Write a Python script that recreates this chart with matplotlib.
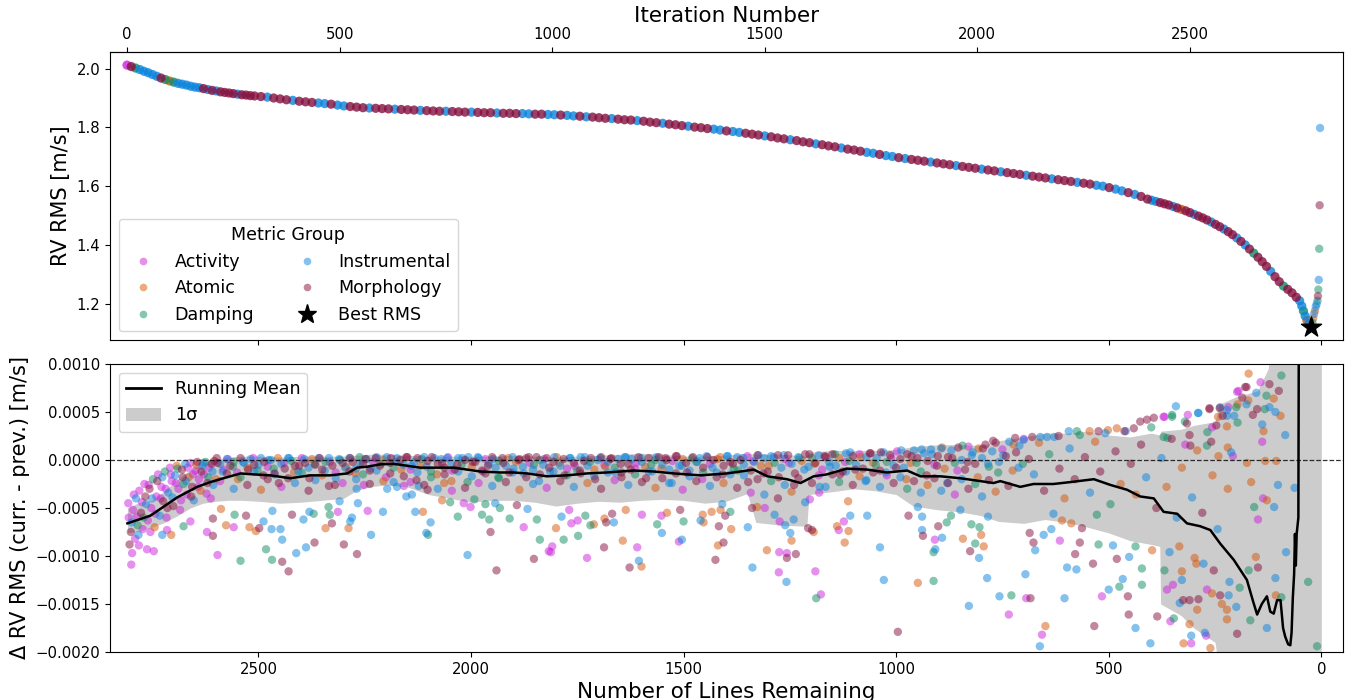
import numpy as np
import matplotlib
matplotlib.use('Agg')
import matplotlib.pyplot as plt
from matplotlib.lines import Line2D
from matplotlib.patches import Patch
import matplotlib.ticker as ticker

# total number of lines at iteration 0
N_LINES = 2809

group_names = ['Activity', 'Atomic', 'Damping', 'Instrumental', 'Morphology']
group_codes = ['A', 'T', 'D', 'I', 'M']
group_colors = ['#cc22dd', '#d5560a', '#0e8c62', '#0a84dc', '#85103f']

# top panel: (iteration, RV RMS [m/s], group)
rms_curve = [
    (0, 2.012, 'A'), (10, 2.007, 'M'), (20, 2.002, 'D'), (30, 1.997, 'I'), (40, 1.991, 'I'),
    (50, 1.986, 'I'), (60, 1.980, 'I'), (70, 1.974, 'I'), (80, 1.968, 'M'), (90, 1.963, 'D'),
    (100, 1.958, 'T'), (110, 1.954, 'D'), (120, 1.950, 'I'), (130, 1.947, 'I'), (140, 1.944, 'I'),
    (150, 1.940, 'I'), (160, 1.937, 'I'), (170, 1.935, 'I'), (180, 1.932, 'M'), (190, 1.929, 'I'),
    (200, 1.926, 'M'), (210, 1.924, 'I'), (220, 1.921, 'M'), (230, 1.919, 'M'), (240, 1.917, 'M'),
    (250, 1.915, 'M'), (260, 1.913, 'I'), (270, 1.911, 'M'), (280, 1.910, 'M'), (290, 1.908, 'M'),
    (300, 1.907, 'M'), (315, 1.905, 'M'), (330, 1.903, 'I'), (345, 1.900, 'M'), (360, 1.897, 'M'),
    (375, 1.894, 'M'), (390, 1.892, 'I'), (405, 1.889, 'M'), (420, 1.887, 'M'), (435, 1.885, 'M'),
    (450, 1.883, 'I'), (465, 1.881, 'I'), (480, 1.879, 'M'), (495, 1.876, 'I'), (510, 1.873, 'I'),
    (525, 1.871, 'M'), (540, 1.869, 'M'), (555, 1.867, 'M'), (570, 1.866, 'I'), (585, 1.865, 'M'),
    (600, 1.864, 'M'), (615, 1.863, 'M'), (630, 1.862, 'I'), (645, 1.861, 'M'), (660, 1.860, 'M'),
    (675, 1.859, 'M'), (690, 1.858, 'I'), (705, 1.857, 'M'), (720, 1.856, 'M'), (735, 1.855, 'M'),
    (750, 1.855, 'I'), (765, 1.854, 'M'), (780, 1.853, 'M'), (795, 1.852, 'M'), (810, 1.852, 'I'),
    (825, 1.851, 'M'), (840, 1.850, 'M'), (855, 1.850, 'M'), (870, 1.849, 'I'), (885, 1.848, 'M'),
    (900, 1.848, 'M'), (915, 1.847, 'M'), (930, 1.847, 'I'), (945, 1.846, 'I'), (960, 1.845, 'M'),
    (975, 1.845, 'M'), (990, 1.844, 'I'), (1005, 1.843, 'I'), (1020, 1.842, 'M'), (1035, 1.841, 'I'),
    (1050, 1.839, 'I'), (1065, 1.838, 'M'), (1080, 1.836, 'I'), (1095, 1.835, 'M'), (1110, 1.833, 'M'),
    (1125, 1.831, 'M'), (1140, 1.830, 'I'), (1155, 1.828, 'M'), (1170, 1.826, 'M'), (1185, 1.825, 'M'),
    (1200, 1.823, 'I'), (1215, 1.821, 'M'), (1230, 1.818, 'M'), (1245, 1.816, 'M'), (1260, 1.814, 'I'),
    (1275, 1.811, 'M'), (1290, 1.809, 'M'), (1305, 1.806, 'M'), (1320, 1.804, 'I'), (1335, 1.801, 'M'),
    (1350, 1.799, 'M'), (1365, 1.796, 'M'), (1380, 1.794, 'I'), (1395, 1.791, 'I'), (1410, 1.788, 'M'),
    (1425, 1.786, 'I'), (1440, 1.783, 'I'), (1455, 1.780, 'M'), (1470, 1.777, 'M'), (1485, 1.774, 'M'),
    (1500, 1.771, 'I'), (1515, 1.768, 'M'), (1530, 1.764, 'M'), (1545, 1.761, 'M'), (1560, 1.758, 'I'),
    (1575, 1.755, 'M'), (1590, 1.751, 'M'), (1605, 1.748, 'M'), (1620, 1.744, 'I'), (1635, 1.741, 'M'),
    (1650, 1.737, 'M'), (1665, 1.734, 'M'), (1680, 1.730, 'I'), (1695, 1.726, 'M'), (1710, 1.723, 'M'),
    (1725, 1.719, 'M'), (1740, 1.715, 'I'), (1755, 1.712, 'I'), (1770, 1.708, 'M'), (1785, 1.704, 'I'),
    (1800, 1.701, 'I'), (1815, 1.697, 'M'), (1830, 1.694, 'I'), (1845, 1.691, 'M'), (1860, 1.688, 'M'),
    (1875, 1.685, 'M'), (1890, 1.682, 'I'), (1905, 1.679, 'M'), (1920, 1.676, 'M'), (1935, 1.673, 'M'),
    (1950, 1.670, 'I'), (1965, 1.667, 'M'), (1980, 1.664, 'M'), (1995, 1.661, 'M'), (2010, 1.658, 'I'),
    (2025, 1.655, 'M'), (2040, 1.652, 'M'), (2055, 1.649, 'I'), (2070, 1.646, 'M'), (2085, 1.643, 'M'),
    (2100, 1.640, 'M'), (2115, 1.637, 'I'), (2130, 1.634, 'M'), (2145, 1.631, 'M'), (2160, 1.628, 'M'),
    (2175, 1.625, 'I'), (2190, 1.622, 'M'), (2205, 1.619, 'M'), (2220, 1.616, 'M'), (2235, 1.613, 'I'),
    (2250, 1.610, 'M'), (2265, 1.607, 'M'), (2280, 1.603, 'I'), (2295, 1.600, 'I'), (2310, 1.595, 'M'),
    (2325, 1.590, 'I'), (2340, 1.584, 'I'), (2355, 1.578, 'M'), (2370, 1.572, 'I'), (2385, 1.565, 'M'),
    (2400, 1.556, 'M'), (2410, 1.552, 'I'), (2420, 1.548, 'I'), (2430, 1.544, 'M'), (2440, 1.540, 'M'),
    (2450, 1.536, 'M'), (2460, 1.531, 'I'), (2470, 1.526, 'M'), (2480, 1.521, 'T'), (2490, 1.516, 'M'),
    (2500, 1.510, 'M'), (2510, 1.504, 'I'), (2520, 1.498, 'M'), (2530, 1.492, 'M'), (2540, 1.485, 'M'),
    (2550, 1.478, 'I'), (2560, 1.470, 'M'), (2570, 1.462, 'M'), (2580, 1.454, 'I'), (2590, 1.445, 'M'),
    (2600, 1.435, 'M'), (2610, 1.424, 'I'), (2620, 1.412, 'M'), (2630, 1.400, 'I'), (2640, 1.386, 'M'),
    (2650, 1.372, 'D'), (2660, 1.358, 'M'), (2670, 1.343, 'M'), (2680, 1.327, 'M'), (2690, 1.310, 'I'),
    (2700, 1.292, 'M'), (2710, 1.275, 'M'), (2720, 1.260, 'D'), (2730, 1.249, 'M'), (2740, 1.237, 'M'),
    (2750, 1.222, 'M'), (2758, 1.210, 'I'), (2763, 1.192, 'I'), (2767, 1.175, 'D'), (2771, 1.158, 'I'),
    (2775, 1.143, 'T'), (2780, 1.132, 'I'),
]
# after the best solution the RMS climbs again
rms_tail = [
    (2788, 1.135, 'D'), (2790, 1.150, 'T'), (2792, 1.165, 'I'), (2794, 1.176, 'T'), (2796, 1.190, 'I'),
    (2798, 1.199, 'I'), (2800, 1.210, 'D'), (2801, 1.226, 'M'), (2802, 1.248, 'D'), (2803, 1.281, 'I'),
    (2804, 1.387, 'D'), (2805, 1.535, 'M'), (2806, 1.798, 'I'),
]
best_iter = 2785
best_rms = 1.121

# bottom panel: (lines remaining, delta RMS [1e-4 m/s], group)
delta_left = [
    (2799, -10.9, 'A'), (2797, -9.7, 'A'), (2762, -9.3, 'A'), (2746, -9.5, 'A'), (2781, -8.9, 'A'),
    (2596, -9.9, 'A'), (2542, -10.5, 'D'), (2482, -9.3, 'D'), (2468, -10.4, 'D'), (2444, -10.6, 'M'),
    (2429, -11.6, 'M'), (2411, -9.7, 'I'), (2388, -9.1, 'I'), (2368, -8.6, 'M'), (2444, -8.3, 'I'),
    (2469, -7.2, 'I'), (2448, -7.2, 'I'), (2488, -6.4, 'I'), (2521, -7.0, 'T'), (2506, -7.4, 'T'),
    (2498, -7.1, 'M'), (2576, -6.8, 'T'), (2558, -7.0, 'A'), (2607, -7.9, 'M'), (2621, -7.5, 'A'),
    (2529, -5.8, 'M'), (2556, -5.7, 'D'), (2588, -5.1, 'T'), (2607, -6.1, 'M'), (2705, -7.8, 'T'),
    (2726, -7.8, 'I'), (2676, -6.9, 'D'), (2660, -6.4, 'A'), (2715, -7.3, 'A'), (2467, -5.3, 'I'),
    (2421, -5.7, 'M'), (2394, -6.2, 'I'), (2380, -5.4, 'I'), (2370, -5.6, 'D'), (2342, -7.1, 'T'),
    (2327, -6.6, 'M'), (2299, -8.8, 'M'), (2268, -9.8, 'M'), (2288, -7.1, 'T'), (2284, -6.4, 'I'),
    (2280, -6.0, 'I'), (2313, -5.4, 'A'), (2332, -5.7, 'D'), (2335, -4.9, 'D'), (2309, -4.3, 'I'),
    (2266, -4.5, 'I'), (2243, -5.3, 'A'), (2235, -7.8, 'I'), (2207, -5.4, 'I'), (2252, -2.6, 'A'),
    (2269, -3.0, 'I'), (2197, -3.0, 'I'), (2182, -2.3, 'I'), (2158, -2.7, 'A'), (2152, -3.8, 'I'),
    (2139, -3.6, 'I'), (2123, -2.7, 'I'), (2131, -5.4, 'I'), (2113, -5.4, 'T'), (2095, -6.5, 'I'),
    (2105, -7.6, 'I'), (2101, -7.8, 'D'), (2102, -3.1, 'M'), (2068, -4.2, 'T'), (2063, -2.4, 'T'),
    (2049, -4.4, 'D'), (2045, -3.2, 'A'), (2031, -5.9, 'D'), (2017, -4.5, 'A'), (2001, -4.9, 'A'),
    (2008, -9.9, 'I'), (1992, -4.1, 'D'), (1974, -5.7, 'D'), (1966, -4.6, 'D'), (1954, -7.5, 'M'),
    (1957, -6.2, 'D'), (1943, -4.5, 'I'), (1940, -11.5, 'M'), (1932, -5.0, 'D'), (1909, -6.1, 'D'),
    (1892, -4.7, 'M'), (1876, -7.0, 'A'), (1852, -10.3, 'M'), (1838, -8.3, 'D'), (1845, -6.2, 'D'),
    (1867, -5.1, 'I'), (1817, -9.5, 'A'),
]
delta_mid = [
    (1812, -9.6, 'A'), (1809, -9.0, 'A'), (1782, -8.3, 'D'), (1748, -7.9, 'D'), (1727, -10.2, 'A'),
    (1800, -7.1, 'T'), (1764, -6.6, 'A'), (1749, -6.3, 'A'), (1787, -5.9, 'I'), (1769, -5.2, 'A'),
    (1731, -5.8, 'D'), (1719, -6.8, 'D'), (1711, -6.7, 'T'), (1687, -9.1, 'M'), (1682, -6.5, 'M'),
    (1668, -5.6, 'M'), (1664, -6.5, 'I'), (1686, -6.1, 'T'), (1643, -8.4, 'T'), (1636, -5.2, 'T'),
    (1627, -11.2, 'M'), (1609, -9.1, 'A'), (1605, -10.5, 'I'), (1599, -11.1, 'T'), (1598, -5.7, 'A'),
    (1562, -6.7, 'D'), (1551, -7.6, 'I'), (1552, -5.8, 'A'), (1539, -5.5, 'T'), (1511, -8.5, 'A'),
    (1504, -8.3, 'I'), (1500, -6.4, 'D'), (1508, -5.2, 'M'), (1460, -6.3, 'I'), (1453, -6.5, 'T'),
    (1455, -5.7, 'T'), (1434, -5.4, 'T'), (1425, -10.4, 'M'), (1417, -6.9, 'M'), (1419, -8.9, 'T'),
    (1406, -8.6, 'M'), (1413, -5.2, 'T'), (1402, -5.8, 'M'), (1390, -5.4, 'D'), (1388, -7.2, 'T'),
    (1409, -4.6, 'I'), (1349, -7.0, 'I'), (1338, -11.2, 'I'), (1327, -4.9, 'T'), (1339, -5.0, 'M'),
    (1304, -9.4, 'T'), (1309, -5.0, 'A'), (1286, -5.7, 'I'), (1274, -6.4, 'A'), (1275, -9.6, 'A'),
    (1276, -11.7, 'A'), (1257, -9.7, 'A'), (1257, -10.2, 'M'), (1258, -12.7, 'I'), (1236, -9.8, 'M'),
    (1246, -8.4, 'T'), (1249, -7.6, 'I'), (1261, -6.8, 'I'), (1241, -6.2, 'I'), (1207, -7.1, 'M'),
    (1198, -7.3, 'M'), (1194, -7.5, 'T'), (1190, -11.6, 'A'), (1188, -14.4, 'D'), (1177, -14.0, 'A'),
    (1203, -4.1, 'A'), (1181, -3.4, 'A'), (1139, -6.9, 'T'), (1135, -7.3, 'A'), (1123, -6.4, 'A'),
    (1112, -7.4, 'T'), (1121, -8.6, 'T'), (1113, -4.3, 'T'), (1108, -5.8, 'I'), (1068, -5.8, 'I'),
    (1038, -9.1, 'I'), (1029, -12.5, 'I'), (996, -17.9, 'M'), (971, -5.8, 'M'), (949, -12.8, 'T'),
    (949, -4.9, 'I'), (939, -7.3, 'I'), (937, -7.9, 'M'), (939, -5.9, 'I'), (912, -12.6, 'D'),
    (909, -8.3, 'A'), (908, -9.3, 'I'), (912, -9.6, 'D'), (901, -6.9, 'M'), (892, -8.1, 'I'),
    (881, -6.5, 'D'), (871, -5.8, 'D'), (849, -5.2, 'I'), (843, -8.2, 'T'), (826, -9.5, 'M'),
    (823, -6.7, 'D'), (829, -15.2, 'I'), (814, -8.7, 'D'), (805, -10.2, 'I'), (794, -9.0, 'T'),
    (800, -7.8, 'T'), (804, -7.0, 'D'), (786, -12.3, 'I'), (757, -14.2, 'I'), (784, -5.9, 'I'),
]
delta_right = [
    (696, -11.9, 'I'), (694, -14.4, 'A'), (684, -14.4, 'M'), (735, -16.1, 'A'), (729, -14.1, 'D'),
    (662, -19.4, 'I'), (657, -18.2, 'A'), (649, -17.3, 'T'), (604, -14.4, 'I'), (598, -11.2, 'I'),
    (576, -11.4, 'I'), (579, -9.8, 'M'), (568, -8.6, 'M'), (673, -9.4, 'I'), (677, -8.6, 'M'),
    (686, -7.6, 'M'), (653, -7.8, 'I'), (635, -7.2, 'I'), (615, -8.4, 'A'), (630, -5.6, 'I'),
    (610, -6.3, 'T'), (588, -6.6, 'T'), (563, -7.1, 'M'), (537, -10.8, 'M'), (534, -17.3, 'M'),
    (524, -8.8, 'D'), (528, -5.7, 'D'), (500, -13.5, 'I'), (516, -14.2, 'A'), (490, -8.9, 'I'),
    (481, -10.3, 'M'), (475, -13.2, 'D'), (467, -12.4, 'I'), (455, -14.2, 'M'), (453, -16.1, 'M'),
    (452, -10.1, 'I'), (437, -9.0, 'D'), (437, -17.5, 'I'), (422, -11.3, 'D'), (422, -13.0, 'D'),
    (402, -19.1, 'I'), (398, -9.4, 'T'), (386, -16.3, 'M'), (369, -11.5, 'D'), (363, -13.5, 'A'),
    (349, -13.0, 'A'), (357, -9.6, 'I'), (347, -16.5, 'D'), (355, -16.8, 'A'), (334, -9.0, 'T'),
    (328, -12.5, 'I'), (328, -11.6, 'T'), (333, -14.9, 'I'), (325, -14.6, 'M'), (324, -19.1, 'T'),
    (306, -19.1, 'A'), (306, -18.3, 'I'), (310, -17.1, 'T'), (310, -14.6, 'M'), (292, -15.6, 'T'),
    (289, -14.5, 'M'), (298, -10.2, 'T'), (294, -10.8, 'T'), (277, -10.8, 'I'), (274, -18.0, 'I'),
    (271, -18.3, 'A'), (261, -19.6, 'T'), (269, -13.5, 'A'), (253, -11.5, 'M'), (257, -13.9, 'T'),
    (238, -14.1, 'M'), (234, -15.0, 'T'), (222, -15.6, 'T'), (216, -12.7, 'I'), (218, -14.1, 'I'),
    (200, -15.3, 'I'), (198, -18.1, 'M'), (222, -16.6, 'T'), (192, -13.3, 'D'), (171, -11.5, 'D'),
    (167, -16.7, 'D'), (149, -11.2, 'M'), (154, -10.1, 'T'), (128, -17.5, 'I'), (108, -12.3, 'I'),
    (107, -14.1, 'T'), (94, -14.3, 'D'), (83, -9.6, 'I'), (31, -12.7, 'D'), (10, -19.4, 'D'),
]
delta_upper = [
    (171, 9.0, 'T'), (143, 8.1, 'A'), (122, 7.9, 'M'), (94, 8.8, 'D'), (100, 7.2, 'M'),
    (112, 6.4, 'T'), (195, 7.2, 'A'), (176, 7.6, 'M'), (186, 6.5, 'M'), (153, 7.0, 'I'),
    (172, 6.2, 'T'), (176, 5.8, 'I'), (129, 6.7, 'D'), (122, 5.5, 'I'), (133, 5.3, 'D'),
    (151, 5.3, 'M'), (108, 5.0, 'I'), (96, 4.6, 'T'), (139, 3.7, 'I'), (136, 3.0, 'T'),
    (85, 2.6, 'I'), (139, 1.9, 'A'), (161, 4.7, 'M'), (197, 3.9, 'D'), (205, 4.6, 'I'),
    (222, 4.6, 'I'), (222, 3.5, 'T'), (238, 5.5, 'I'), (219, 5.5, 'A'), (200, 5.5, 'D'),
    (263, 5.4, 'M'), (243, 4.5, 'T'), (289, 4.9, 'I'), (314, 4.7, 'A'), (342, 5.6, 'I'),
    (351, 4.5, 'D'), (369, 4.5, 'A'), (321, 4.0, 'D'), (257, 3.4, 'A'), (247, 3.6, 'M'),
    (310, 2.6, 'M'), (371, 2.4, 'D'), (362, 2.3, 'D'), (320, 1.6, 'A'), (308, 1.5, 'M'),
    (269, 1.5, 'D'), (259, 1.9, 'M'), (220, 1.3, 'T'), (212, 0.8, 'I'), (242, 0.4, 'T'),
    (106, -0.1, 'T'), (132, -0.1, 'T'), (175, -0.3, 'T'), (102, -2.6, 'I'), (63, -2.9, 'I'),
    (165, -2.3, 'T'), (137, -4.0, 'A'), (111, -4.9, 'I'), (128, -4.2, 'T'), (158, -4.9, 'D'),
    (149, -6.2, 'A'), (720, 2.3, 'M'), (700, 2.1, 'I'), (680, 2.4, 'M'), (661, 2.4, 'I'),
    (645, 2.4, 'I'), (618, 2.5, 'M'), (594, 3.0, 'I'), (575, 3.0, 'D'), (545, 3.0, 'T'),
    (524, 3.0, 'M'), (502, 3.1, 'T'), (481, 3.3, 'T'), (463, 3.0, 'M'), (441, 3.3, 'M'),
    (426, 4.0, 'M'), (410, 4.2, 'M'), (394, 4.4, 'M'), (371, 4.5, 'A'), (351, 4.7, 'D'),
    (290, 4.9, 'I'), (263, 5.3, 'M'), (239, 5.4, 'M'), (222, 5.2, 'I'), (197, 5.8, 'T'),
    (198, 7.1, 'A'), (179, 7.6, 'M'),
]
# early cluster and the spread just below zero
delta_dense = [
    (2805, -6.0, 'A'), (2800, -7.5, 'M'), (2795, -5.2, 'A'), (2790, -8.2, 'A'), (2788, -4.0, 'I'),
    (2784, -6.8, 'D'), (2780, -3.2, 'A'), (2776, -5.5, 'M'), (2772, -7.2, 'A'), (2768, -2.5, 'A'),
    (2764, -4.6, 'I'), (2760, -6.3, 'A'), (2756, -3.0, 'M'), (2752, -5.0, 'A'), (2748, -2.0, 'D'),
    (2744, -7.0, 'T'), (2740, -3.8, 'A'), (2736, -1.5, 'A'), (2732, -5.8, 'I'), (2728, -2.8, 'A'),
    (2724, -4.3, 'M'), (2720, -1.2, 'D'), (2716, -6.0, 'A'), (2712, -3.4, 'I'), (2708, -0.8, 'A'),
    (2704, -2.2, 'A'), (2700, -4.8, 'M'), (2696, -1.6, 'I'), (2692, -0.6, 'T'), (2688, -3.0, 'A'),
    (2684, -5.2, 'A'), (2680, -1.0, 'M'), (2676, -2.5, 'D'), (2672, -0.4, 'I'), (2668, -3.6, 'A'),
    (2664, -1.8, 'T'), (2660, -0.3, 'A'), (2656, -2.8, 'M'), (2652, -4.2, 'I'), (2648, -1.1, 'A'),
    (2644, -0.2, 'M'), (2640, -2.0, 'A'), (2636, -3.2, 'T'), (2632, -0.6, 'I'), (2628, -1.5, 'A'),
    (2624, -0.2, 'D'), (2620, -2.4, 'M'), (2616, -0.8, 'A'), (2612, -4.0, 'A'), (2608, -1.2, 'I'),
    (2604, -0.1, 'M'), (2600, -2.0, 'T'),
    (2806, -4.5, 'A'), (2803, -8.8, 'M'), (2798, -6.5, 'I'), (2793, -3.6, 'A'), (2786, -5.9, 'A'),
    (2782, -7.8, 'I'), (2774, -4.4, 'A'), (2770, -6.0, 'D'), (2766, -3.8, 'M'), (2758, -2.6, 'A'),
    (2754, -7.5, 'A'), (2750, -4.0, 'I'), (2742, -5.6, 'A'), (2738, -2.2, 'M'), (2730, -4.0, 'A'),
    (2726, -1.8, 'I'), (2718, -3.0, 'A'), (2714, -5.0, 'M'), (2706, -1.5, 'A'), (2702, -3.9, 'I'),
    (2694, -2.4, 'A'), (2690, -0.9, 'D'), (2682, -4.2, 'A'), (2678, -1.8, 'M'), (2670, -2.2, 'I'),
    (2666, -0.8, 'A'), (2658, -3.8, 'M'), (2654, -1.5, 'A'), (2646, -0.5, 'T'), (2642, -2.8, 'A'),
    (2634, -1.2, 'M'), (2630, -0.3, 'I'), (2622, -3.5, 'A'), (2618, -1.8, 'D'), (2610, -0.4, 'M'),
    (2606, -2.6, 'I'),
    (2596, -0.3, 'M'), (2584, -1.2, 'I'), (2572, 0.1, 'A'), (2560, -0.7, 'D'), (2548, -2.0, 'T'),
    (2536, -0.2, 'I'), (2524, -1.0, 'M'), (2512, 0.2, 'A'), (2500, -0.5, 'I'), (2488, -1.6, 'M'),
    (2476, 0.0, 'I'), (2464, -0.9, 'D'), (2452, -2.4, 'M'), (2440, -0.3, 'A'), (2428, 0.2, 'I'),
    (2416, -1.3, 'T'), (2404, -0.6, 'M'), (2392, 0.1, 'I'), (2380, -1.9, 'M'), (2368, -0.4, 'D'),
    (2356, 0.2, 'M'), (2344, -1.1, 'I'), (2332, -0.2, 'A'), (2320, -2.6, 'M'), (2308, 0.0, 'D'),
    (2296, -0.8, 'I'), (2284, 0.2, 'M'), (2272, -1.4, 'T'), (2260, -0.3, 'I'), (2248, 0.1, 'M'),
    (2236, -0.9, 'I'), (2224, 0.2, 'M'), (2212, -0.4, 'D'), (2200, -1.8, 'A'), (2188, 0.2, 'M'),
    (2176, -0.2, 'I'), (2164, -1.0, 'T'), (2152, 0.3, 'M'), (2140, -0.6, 'I'), (2128, -2.1, 'M'),
    (2116, 0.1, 'D'), (2104, -0.7, 'I'), (2092, 0.3, 'M'), (2080, -1.5, 'T'), (2068, -0.3, 'M'),
    (2056, 0.2, 'I'), (2044, -1.1, 'A'), (2032, -0.5, 'M'), (2020, 0.2, 'I'), (2008, -2.3, 'D'),
    (1996, -0.2, 'M'), (1984, 0.3, 'I'), (1972, -1.2, 'A'), (1960, -0.6, 'M'), (1948, 0.1, 'I'),
    (1936, -1.8, 'D'), (1924, -0.3, 'M'), (1912, 0.2, 'T'), (1900, -0.9, 'I'), (1888, 0.0, 'M'),
    (1876, -1.4, 'I'), (1864, 0.3, 'M'), (1852, -0.5, 'D'), (1840, -2.2, 'I'), (1828, 0.1, 'A'),
    (1816, -0.8, 'M'), (1804, 0.3, 'I'), (1792, -0.3, 'T'), (1780, -1.6, 'M'), (1768, 0.2, 'I'),
    (1756, -0.6, 'A'), (1744, -1.1, 'M'), (1732, 0.3, 'I'), (1720, -0.2, 'D'), (1708, -2.0, 'M'),
    (1696, 0.2, 'I'), (1684, -0.7, 'T'), (1672, 0.1, 'M'), (1660, -1.3, 'I'), (1648, -0.4, 'M'),
    (1636, 0.3, 'I'), (1624, -1.0, 'M'), (1612, -0.3, 'A'), (1600, 0.2, 'I'), (1588, -1.9, 'M'),
    (1576, -0.5, 'D'), (1564, 0.3, 'I'), (1552, -0.9, 'T'), (1540, 0.0, 'M'), (1528, -2.4, 'I'),
    (1516, 0.4, 'M'), (1504, -0.6, 'I'), (1492, -1.3, 'M'), (1480, 0.2, 'D'), (1468, -0.2, 'I'),
    (1456, -2.0, 'A'), (1444, 0.3, 'M'), (1432, -0.8, 'I'), (1420, 0.1, 'T'), (1408, -1.5, 'M'),
    (1396, 0.4, 'I'), (1384, -0.4, 'M'), (1372, -1.1, 'D'), (1360, 0.2, 'I'), (1348, -2.3, 'M'),
    (1336, -0.1, 'A'), (1324, 0.5, 'I'), (1312, -1.4, 'M'), (1300, -0.6, 'T'), (1288, 0.3, 'I'),
    (1276, -1.8, 'M'), (1264, 0.5, 'I'), (1252, -0.3, 'A'), (1240, -2.6, 'M'), (1228, 0.2, 'D'),
    (1216, -1.0, 'I'), (1204, 0.6, 'M'), (1192, -0.4, 'T'), (1180, -2.8, 'I'), (1168, 0.4, 'M'),
    (1156, -0.7, 'I'), (1144, 0.6, 'D'), (1132, -1.5, 'M'), (1120, -0.2, 'A'), (1108, 0.8, 'I'),
    (1096, -1.0, 'M'), (1084, 0.3, 'T'), (1072, -2.2, 'I'), (1060, 0.7, 'M'), (1048, -0.5, 'D'),
    (1036, 0.8, 'M'), (1024, -1.3, 'I'), (1012, 0.2, 'A'), (1000, -0.8, 'M'), (988, 1.0, 'I'),
    (976, -2.0, 'T'), (964, 0.4, 'M'), (952, -0.3, 'D'), (940, 1.1, 'I'), (928, -1.6, 'M'),
    (916, 0.6, 'I'), (904, -0.6, 'M'), (892, 1.3, 'T'), (880, -2.4, 'I'), (868, 0.2, 'M'),
    (856, -1.1, 'A'), (844, 1.5, 'D'), (832, -0.2, 'M'), (820, 0.8, 'I'), (808, -1.8, 'T'),
    (796, 1.2, 'M'), (784, -0.4, 'I'), (772, 2.0, 'M'), (760, -1.3, 'D'), (748, 0.5, 'I'),
    (736, -2.7, 'M'), (724, 1.6, 'T'), (712, -0.8, 'I'), (700, 2.2, 'A'), (688, 0.1, 'M'),
    (676, -1.5, 'I'), (664, 1.8, 'T'), (652, -3.2, 'M'), (640, 0.6, 'D'), (628, 2.4, 'I'),
    (616, -0.9, 'M'), (604, -4.0, 'T'), (592, 1.2, 'I'), (580, -2.0, 'M'), (568, 2.6, 'D'),
    (556, 0.3, 'M'), (544, -3.4, 'I'), (532, 1.9, 'T'), (520, -1.2, 'M'), (508, 2.8, 'I'),
    (496, -4.6, 'D'), (484, 0.9, 'M'), (472, -2.5, 'T'), (460, 3.0, 'I'), (448, -0.4, 'M'),
    (436, -3.6, 'T'), (424, 1.6, 'M'), (412, -1.8, 'I'), (400, 3.4, 'D'), (388, -5.0, 'M'),
    (376, 0.2, 'I'), (364, -2.8, 'T'), (352, 2.2, 'M'), (340, -6.0, 'I'), (328, -0.8, 'T'),
    (316, 3.8, 'M'), (304, -3.9, 'I'), (292, 1.0, 'T'), (280, -5.5, 'M'), (268, 2.9, 'D'),
    (256, -1.6, 'T'), (244, -7.2, 'I'), (232, 4.6, 'M'), (220, -3.0, 'T'), (208, 0.4, 'A'),
]
# second, offset row of the crowded ribbon near zero
delta_ribbon = [
    (2598, 0.2, 'M'), (2590, -0.4, 'I'), (2582, -1.0, 'A'), (2574, 0.1, 'I'), (2566, -0.6, 'M'),
    (2558, -0.2, 'D'), (2550, -1.3, 'A'), (2542, 0.2, 'M'), (2534, -0.3, 'I'), (2526, -0.8, 'T'),
    (2518, 0.1, 'I'), (2510, -0.5, 'M'), (2502, -1.1, 'D'), (2494, 0.2, 'I'), (2486, -0.2, 'M'),
    (2478, -0.7, 'A'), (2470, 0.0, 'I'), (2462, -1.4, 'M'), (2454, 0.2, 'T'), (2446, -0.4, 'I'),
    (2438, -0.9, 'M'), (2430, 0.2, 'I'), (2422, -0.1, 'D'), (2414, -0.6, 'M'), (2406, -1.2, 'I'),
    (2398, 0.2, 'A'), (2390, -0.3, 'M'), (2382, -0.8, 'I'), (2374, 0.1, 'T'), (2366, -0.5, 'M'),
    (2358, 0.2, 'I'), (2350, -1.0, 'M'), (2342, -0.2, 'D'), (2334, 0.2, 'I'), (2326, -0.6, 'M'),
    (2318, -1.3, 'A'), (2310, 0.1, 'I'), (2302, -0.3, 'M'), (2294, -0.7, 'T'), (2286, 0.2, 'I'),
    (2278, -0.2, 'M'), (2270, -0.9, 'I'), (2262, 0.3, 'D'), (2254, -0.4, 'M'), (2246, 0.1, 'I'),
    (2238, -1.1, 'M'), (2230, -0.2, 'A'), (2222, 0.3, 'I'), (2214, -0.6, 'M'), (2206, 0.0, 'T'),
    (2198, 0.3, 'I'), (2190, -0.3, 'M'), (2182, -0.8, 'D'), (2174, 0.2, 'I'), (2166, 0.0, 'M'),
    (2158, -0.5, 'I'), (2150, 0.3, 'M'), (2142, -1.0, 'A'), (2134, -0.2, 'I'), (2126, 0.2, 'M'),
    (2118, -0.6, 'T'), (2110, 0.3, 'I'), (2102, -0.1, 'M'), (2094, -1.2, 'D'), (2086, 0.2, 'I'),
    (2078, -0.4, 'M'), (2070, 0.1, 'I'), (2062, -0.8, 'M'), (2054, 0.3, 'A'), (2046, -0.3, 'I'),
    (2038, -1.0, 'M'), (2030, 0.2, 'I'), (2022, -0.5, 'D'), (2014, 0.0, 'M'), (2006, 0.3, 'I'),
    (1998, -0.7, 'T'), (1990, -0.2, 'M'), (1982, 0.2, 'I'), (1974, -1.1, 'M'), (1966, 0.1, 'A'),
    (1958, -0.4, 'I'), (1950, 0.3, 'M'), (1942, -0.8, 'I'), (1934, -0.1, 'D'), (1926, 0.2, 'M'),
    (1918, -0.6, 'I'), (1910, -1.3, 'M'), (1902, 0.3, 'I'), (1894, -0.2, 'T'), (1886, 0.1, 'M'),
    (1878, -0.7, 'I'), (1870, 0.2, 'M'), (1862, -0.3, 'A'), (1854, -1.0, 'I'), (1846, 0.3, 'M'),
    (1838, 0.0, 'D'), (1830, -0.5, 'I'), (1822, 0.2, 'M'), (1814, -1.2, 'I'), (1806, -0.2, 'M'),
    (1798, 0.3, 'T'), (1790, -0.6, 'I'), (1782, 0.1, 'M'), (1774, -0.9, 'A'), (1766, 0.2, 'I'),
    (1758, -0.3, 'M'), (1750, -1.1, 'D'), (1742, 0.3, 'I'), (1734, -0.1, 'M'), (1726, -0.6, 'I'),
    (1718, 0.2, 'M'), (1710, -1.0, 'T'), (1702, 0.0, 'I'), (1694, 0.3, 'M'), (1686, -0.5, 'A'),
    (1678, -0.2, 'I'), (1670, 0.2, 'M'), (1662, -0.8, 'D'), (1654, 0.1, 'I'), (1646, -1.3, 'M'),
    (1638, 0.3, 'I'), (1630, -0.4, 'M'), (1622, 0.1, 'I'), (1614, -0.9, 'A'), (1606, 0.3, 'M'),
    (1598, -0.2, 'I'), (1590, -0.7, 'T'), (1582, 0.2, 'M'), (1574, -1.2, 'I'), (1566, 0.0, 'D'),
    (1558, 0.3, 'M'), (1550, -0.5, 'I'), (1542, 0.2, 'M'), (1534, -1.0, 'I'), (1526, -0.1, 'A'),
    (1518, 0.4, 'M'), (1510, -0.6, 'I'), (1502, 0.1, 'T'), (1494, -0.3, 'M'), (1486, -1.1, 'I'),
    (1478, 0.3, 'M'), (1470, -0.2, 'D'), (1462, 0.2, 'I'), (1454, -0.8, 'M'), (1446, 0.4, 'I'),
    (1438, -0.4, 'A'), (1430, 0.0, 'M'), (1422, -1.3, 'I'), (1414, 0.3, 'T'), (1406, -0.6, 'M'),
    (1398, 0.4, 'I'), (1390, -0.2, 'M'), (1382, -0.9, 'D'), (1374, 0.3, 'I'), (1366, 0.0, 'M'),
    (1358, -0.5, 'I'), (1350, 0.4, 'A'), (1342, -1.1, 'M'), (1334, -0.2, 'I'), (1326, 0.5, 'M'),
    (1318, -0.6, 'T'), (1310, 0.2, 'I'), (1302, -1.2, 'M'), (1294, 0.4, 'I'), (1286, -0.3, 'D'),
    (1278, 0.5, 'M'), (1270, -0.8, 'I'), (1262, 0.1, 'A'), (1254, 0.5, 'M'), (1246, -0.4, 'I'),
    (1238, -1.4, 'M'), (1230, 0.3, 'I'), (1222, -0.1, 'T'), (1214, 0.6, 'M'), (1206, -0.7, 'I'),
    (1198, 0.2, 'D'), (1190, -0.3, 'M'), (1182, 0.5, 'I'), (1174, -1.0, 'A'), (1166, 0.3, 'M'),
    (1158, -0.2, 'I'), (1150, 0.6, 'M'), (1142, -0.6, 'I'), (1134, 0.2, 'T'), (1126, -1.2, 'M'),
    (1118, 0.7, 'I'), (1110, -0.1, 'D'), (1102, 0.4, 'M'), (1094, -0.5, 'I'), (1086, 0.6, 'A'),
    (1078, -0.9, 'M'), (1070, 0.3, 'I'), (1062, 0.7, 'M'), (1054, -0.3, 'T'), (1046, 0.2, 'I'),
    (1038, -1.1, 'M'), (1030, 0.8, 'I'), (1022, -0.2, 'D'), (1014, 0.5, 'M'), (1006, -0.6, 'I'),
    (998, 0.9, 'A'), (990, 0.1, 'M'), (982, -0.8, 'I'), (974, 0.6, 'M'), (966, -0.3, 'T'),
    (958, 1.0, 'I'), (950, 0.2, 'M'), (942, -1.2, 'D'), (934, 0.7, 'I'), (926, -0.1, 'M'),
    (918, 1.1, 'I'), (910, -0.5, 'A'), (902, 0.4, 'M'), (894, 1.2, 'I'), (886, -0.9, 'T'),
    (878, 0.3, 'M'), (870, 1.0, 'I'), (862, -0.3, 'D'), (854, 1.3, 'M'), (846, 0.0, 'I'),
    (838, -1.0, 'M'), (830, 1.4, 'A'), (822, 0.5, 'I'), (814, -0.4, 'M'), (806, 1.2, 'T'),
    (798, 0.2, 'I'), (790, 1.6, 'M'), (782, -0.7, 'D'), (774, 0.9, 'I'), (766, 1.8, 'M'),
    (758, -0.2, 'I'), (750, 1.1, 'A'), (742, 0.4, 'M'), (734, 1.9, 'I'), (726, -1.1, 'T'),
    (718, 0.8, 'M'), (710, 1.5, 'I'), (702, -0.4, 'D'),
]
# looser layer a little deeper, over the grey band
delta_deep = [
    (2590, -2.2, 'A'), (2574, -1.4, 'M'), (2558, -3.0, 'I'), (2542, -1.8, 'D'), (2526, -2.6, 'M'),
    (2510, -1.2, 'I'), (2494, -3.1, 'T'), (2478, -2.0, 'M'), (2462, -1.5, 'I'), (2446, -2.8, 'A'),
    (2430, -1.9, 'M'), (2414, -2.4, 'I'), (2398, -1.3, 'D'), (2382, -3.2, 'M'), (2366, -2.1, 'I'),
    (2350, -1.6, 'T'), (2334, -2.7, 'M'), (2318, -1.9, 'I'), (2302, -2.4, 'A'), (2286, -1.2, 'M'),
    (2270, -2.0, 'I'), (2254, -1.5, 'D'), (2238, -2.5, 'M'), (2222, -1.1, 'I'), (2206, -2.2, 'T'),
    (2190, -1.4, 'M'), (2174, -2.8, 'I'), (2158, -1.7, 'M'), (2142, -2.3, 'A'), (2126, -1.3, 'I'),
    (2110, -2.6, 'M'), (2094, -1.8, 'D'), (2078, -3.0, 'I'), (2062, -1.5, 'M'), (2046, -2.2, 'T'),
    (2030, -1.2, 'I'), (2014, -2.9, 'M'), (1998, -1.7, 'I'), (1982, -2.4, 'A'), (1966, -1.4, 'M'),
    (1950, -2.7, 'I'), (1934, -1.9, 'D'), (1918, -2.3, 'M'), (1902, -1.3, 'I'), (1886, -3.1, 'T'),
    (1870, -1.8, 'M'), (1854, -2.5, 'I'), (1838, -1.5, 'M'), (1822, -2.9, 'A'), (1806, -1.2, 'I'),
    (1790, -2.2, 'M'), (1774, -1.6, 'D'), (1758, -2.8, 'I'), (1742, -1.4, 'M'), (1726, -2.4, 'T'),
    (1710, -1.7, 'I'), (1694, -3.0, 'M'), (1678, -1.3, 'I'), (1662, -2.1, 'A'), (1646, -1.8, 'M'),
    (1630, -2.6, 'I'), (1614, -1.5, 'D'), (1598, -2.3, 'M'), (1582, -1.2, 'I'), (1566, -2.9, 'T'),
    (1550, -1.9, 'M'), (1534, -2.4, 'I'), (1518, -1.4, 'M'), (1502, -3.1, 'A'), (1486, -1.7, 'I'),
    (1470, -2.2, 'M'), (1454, -1.3, 'D'), (1438, -2.7, 'I'), (1422, -1.8, 'M'), (1406, -2.4, 'T'),
    (1390, -1.5, 'I'), (1374, -2.9, 'M'), (1358, -1.6, 'I'), (1342, -3.4, 'A'), (1326, -2.0, 'M'),
    (1310, -3.6, 'I'), (1294, -2.2, 'D'), (1278, -4.0, 'M'), (1262, -2.6, 'I'), (1246, -3.3, 'T'),
    (1230, -1.9, 'M'), (1214, -4.4, 'I'), (1198, -2.4, 'M'), (1182, -1.6, 'A'), (1166, -2.8, 'I'),
    (1150, -1.5, 'M'), (1134, -2.3, 'D'), (1118, -1.2, 'I'), (1102, -2.6, 'M'), (1086, -1.7, 'T'),
    (1070, -2.1, 'I'), (1054, -1.3, 'M'), (1038, -2.8, 'I'), (1022, -1.6, 'A'), (1006, -2.4, 'M'),
    (990, -1.8, 'I'), (974, -3.0, 'D'), (958, -2.2, 'M'), (942, -3.4, 'I'), (926, -2.6, 'T'),
    (910, -1.9, 'M'), (894, -3.2, 'I'), (878, -2.4, 'M'), (862, -3.6, 'A'), (846, -2.0, 'I'),
    (830, -3.0, 'M'), (814, -2.5, 'D'), (798, -3.8, 'I'), (782, -2.1, 'M'), (766, -3.3, 'T'),
]

# running mean of the delta: (lines remaining, mean [1e-4 m/s])
running_mean = [
    (2808, -6.6), (2754, -5.8), (2691, -3.9), (2644, -2.8), (2613, -2.3), (2574, -1.8),
    (2542, -1.4), (2511, -1.5), (2472, -1.6), (2425, -1.9), (2378, -1.6), (2331, -1.6),
    (2291, -1.4), (2268, -0.8), (2244, -0.7), (2213, -0.45), (2182, -0.4), (2150, -0.6),
    (2119, -0.8), (2041, -0.8), (2009, -1.0), (1978, -1.2), (1931, -1.3), (1900, -1.3),
    (1868, -1.4), (1821, -1.7), (1774, -1.6), (1727, -1.4), (1680, -1.3), (1617, -1.1),
    (1570, -1.2), (1523, -1.4), (1461, -1.6), (1398, -1.4), (1335, -1.0), (1303, -1.7),
    (1257, -2.0), (1225, -2.4), (1194, -1.7), (1163, -1.5), (1116, -0.9), (1068, -1.0),
    (1022, -1.3), (974, -1.1), (943, -1.7), (896, -1.7), (849, -1.9), (802, -2.2),
    (771, -2.4), (755, -2.2), (708, -2.8), (677, -2.5), (630, -2.5), (590, -2.3),
    (535, -2.0), (496, -2.6), (457, -3.1), (426, -3.8), (394, -4.0), (371, -5.4),
    (339, -5.6), (316, -6.6), (285, -6.9), (261, -7.3), (238, -8.7), (206, -10.4),
    (175, -12.5), (160, -14.8), (151, -16.1), (140, -15.0), (128, -14.2), (120, -15.8),
    (112, -16.0), (104, -14.6), (96, -14.6), (90, -17.5), (85, -18.4), (78, -19.2),
    (73, -19.3), (70, -18.0), (67, -14.3), (64, -11.9), (62, -7.7), (60, -11.0),
    (58, -7.7), (54, -6.0), (52, 30.0),
]
# 1 sigma envelope: (lines remaining, lower, upper) [1e-4 m/s]
sigma_band = [
    (2808, -7.6, -5.0), (2780, -7.4, -4.4), (2750, -7.0, -4.2), (2720, -6.5, -3.2),
    (2690, -5.8, -2.0), (2660, -5.0, -1.0), (2630, -4.5, -0.3), (2600, -4.3, 0.1),
    (2570, -4.2, 0.3), (2540, -4.2, 0.4), (2500, -4.3, 0.4), (2450, -4.5, 0.3),
    (2400, -4.4, 0.4), (2350, -4.2, 0.4), (2300, -4.0, 0.4), (2270, -3.2, 0.5),
    (2240, -2.8, 0.6), (2200, -2.6, 0.6), (2150, -2.8, 0.5), (2100, -3.6, 0.4),
    (2050, -4.0, 0.4), (2000, -4.4, 0.4), (1950, -4.2, 0.4), (1900, -4.2, 0.5),
    (1850, -4.4, 0.4), (1800, -4.8, 0.3), (1750, -4.5, 0.4), (1700, -4.3, 0.5),
    (1650, -4.4, 0.6), (1600, -4.2, 0.7), (1550, -4.1, 0.6), (1500, -4.2, 0.4),
    (1450, -4.5, 0.4), (1400, -4.3, 0.5), (1350, -3.5, 0.7), (1330, -6.5, 0.6),
    (1270, -6.8, 0.6), (1210, -6.9, 0.4), (1205, -3.6, 0.8), (1150, -3.3, 1.0),
    (1100, -3.0, 1.0), (1050, -3.2, 1.0), (1000, -3.6, 1.1), (960, -4.8, 1.4),
    (900, -5.2, 1.6), (850, -5.4, 1.6), (800, -5.8, 1.5), (760, -6.4, 2.0),
    (700, -6.6, 2.4), (650, -6.2, 2.8), (600, -6.5, 2.8), (550, -7.0, 3.0),
    (500, -7.6, 2.6), (450, -8.4, 2.4), (400, -8.8, 2.8), (380, -9.0, 2.6),
    (378, -15.0, 3.0), (330, -16.2, 3.2), (300, -17.5, 3.6), (250, -19.0, 4.0),
    (240, -22.0, 5.8), (200, -22.0, 6.6), (150, -22.0, 7.2), (125, -22.0, 9.5),
    (118, -22.0, 12.0), (60, -22.0, 12.0), (0, -22.0, 12.0),
]

fig = plt.figure(figsize=(13.48, 7.0), dpi=100)
ax1 = fig.add_axes([0.0816, 0.5143, 0.9147, 0.4114])
ax2 = fig.add_axes([0.0816, 0.0686, 0.9147, 0.4114], sharex=ax1)

# ---- top panel
for code, color in zip(group_codes, group_colors):
    pts = [p for p in rms_curve if p[2] == code]
    if pts:
        ax1.scatter([N_LINES - p[0] for p in pts], [p[1] for p in pts], s=44,
                    color=color, alpha=0.8, edgecolors='none', zorder=2)
    pts = [p for p in rms_tail if p[2] == code]
    if pts:
        ax1.scatter([N_LINES - p[0] for p in pts], [p[1] for p in pts], s=36,
                    color=color, alpha=0.5, edgecolors='none', zorder=2)
ax1.scatter(N_LINES - best_iter, best_rms, marker='*', s=230, color='black', zorder=4)

ax1.set_ylabel('RV RMS [m/s]', fontsize=15)
ax1.tick_params(labelsize=10.7, labelbottom=False)

handles = [Line2D([], [], ls='', marker='o', markersize=5.5, color=c, alpha=0.5,
                  markeredgewidth=0) for c in group_colors]
handles.append(Line2D([], [], ls='', marker='*', markersize=14, color='black'))
ax1.legend(handles, group_names + ['Best RMS'], ncol=2, loc='lower left',
           title='Metric Group', fontsize=12.6, title_fontsize=12.6)

top = ax1.secondary_xaxis('top', functions=(lambda x: N_LINES - x, lambda x: N_LINES - x))
top.set_xticks([0, 500, 1000, 1500, 2000, 2500])
top.tick_params(labelsize=10.7)
top.set_xlabel('Iteration Number', fontsize=15.5)

# ---- bottom panel
band_x = [b[0] for b in sigma_band]
ax2.fill_between(band_x, [b[1] * 1e-4 for b in sigma_band], [b[2] * 1e-4 for b in sigma_band],
                 color='gray', alpha=0.4, lw=0, zorder=1)

all_delta = (delta_deep + delta_dense + delta_ribbon + delta_left + delta_mid
             + delta_right + delta_upper)
for code, color in zip(group_codes, group_colors):
    pts = [p for p in all_delta if p[2] == code]
    ax2.scatter([p[0] for p in pts], [p[1] * 1e-4 for p in pts], s=36,
                color=color, alpha=0.5, edgecolors='none', zorder=2)

ax2.axhline(0, color='black', ls='--', lw=0.9, alpha=0.8, zorder=3)
ax2.plot([m[0] for m in running_mean], [m[1] * 1e-4 for m in running_mean],
         color='black', lw=1.8, zorder=4)

ax2.set_ylim(-0.002, 0.001)
ax2.yaxis.set_major_locator(ticker.MultipleLocator(0.0005))
ax2.set_xlim(2849, -51)
ax2.set_xlabel('Number of Lines Remaining', fontsize=15.5)
ax2.set_ylabel('Δ RV RMS (curr. - prev.) [m/s]', fontsize=15)
ax2.tick_params(labelsize=10.7)

leg_handles = [Line2D([], [], color='black', lw=2),
               Patch(facecolor='gray', alpha=0.4, lw=0)]
ax2.legend(leg_handles, ['Running Mean', '1σ'], loc='upper left', fontsize=12.6)

fig.savefig('out.png', dpi=100)
